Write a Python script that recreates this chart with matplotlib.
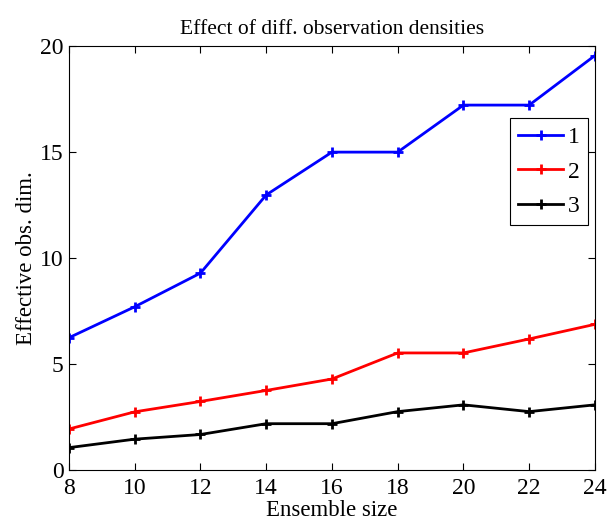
import matplotlib
matplotlib.use("Agg")
import matplotlib.pyplot as plt

ensemble_size = [8, 10, 12, 14, 16, 18, 20, 22, 24]
series_1 = [6.24, 7.70, 9.29, 12.98, 15.0, 15.0, 17.22, 17.22, 19.56]
series_2 = [1.93, 2.74, 3.23, 3.75, 4.29, 5.52, 5.52, 6.18, 6.87]
series_3 = [1.05, 1.45, 1.67, 2.18, 2.18, 2.75, 3.07, 2.75, 3.07]
labels = ["1", "2", "3"]
colors = ["#0000ff", "#ff0000", "#000000"]

plt.rcParams["font.family"] = ["Liberation Serif", "DejaVu Serif"]
plt.rcParams["mathtext.fontset"] = "stix"

fig = plt.figure(figsize=(6.08, 5.25), dpi=100)
ax = fig.add_axes([0.1135, 0.105, 0.865, 0.807])

for ys, lab, c in zip([series_1, series_2, series_3], labels, colors):
    ax.plot(ensemble_size, ys, color=c, lw=2.0, marker="+", ms=7, mew=2.0, label=lab)

ax.set_xlim(8, 24)
ax.set_ylim(0, 20)
ax.set_xticks(ensemble_size)
ax.set_yticks([0, 5, 10, 15, 20])
ax.tick_params(direction="in", top=True, right=True, labelsize=17, length=5, width=0.8, pad=4)
ax.tick_params(axis="x", pad=6)
for s in ax.spines.values():
    s.set_linewidth(0.8)

ax.set_xlabel("Ensemble size", fontsize=16.5, labelpad=0.5)
ax.set_ylabel("Effective obs. dim.", fontsize=16.5, labelpad=2)
ax.set_title("Effect of diff. observation densities", fontsize=15.5, pad=9)

leg = ax.legend(loc="upper right", bbox_to_anchor=(0.9865, 0.83), fontsize=17,
                fancybox=False, edgecolor="black", framealpha=1,
                handlelength=1.9, handletextpad=0.2, borderpad=0.35, labelspacing=0.55,
                borderaxespad=0.0)
leg.get_frame().set_linewidth(0.8)

fig.savefig("out.png", dpi=100)
